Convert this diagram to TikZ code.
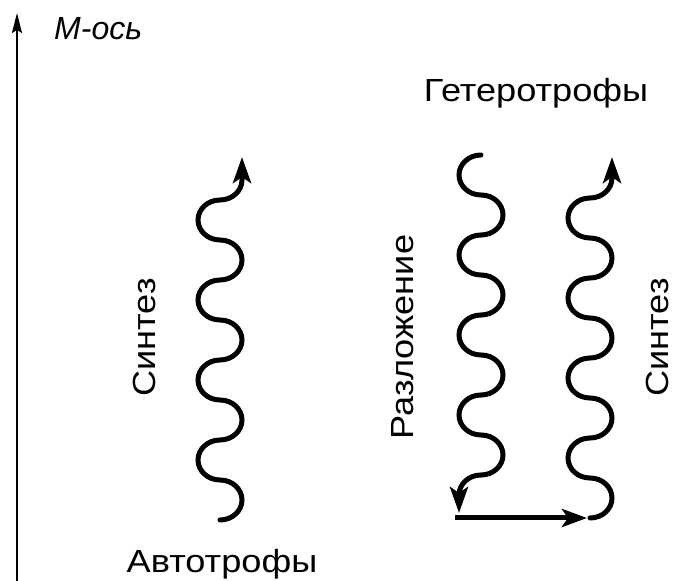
\documentclass[tikz,border=0pt]{standalone}
\usepackage{fontspec}
\setmainfont{Liberation Sans}
\usetikzlibrary{arrows.meta}

\begin{document}
\begin{tikzpicture}[
  x=1pt, y=1pt,
  every node/.style={font=\fontsize{32}{38}\selectfont, inner sep=0pt},
  label/.style={xscale=1.13},
  wave/.style={line width=5pt, line cap=round, x radius=22, y radius=20, -{Stealth[length=26pt, width=18pt, inset=6pt]}},
  flow/.style={line width=5pt, -{Stealth[length=25pt, width=18pt, inset=6pt]}},
  axisline/.style={line width=1.7pt, -{Stealth[length=20pt, width=10pt, inset=3pt]}}
]
\useasboundingbox (0,0) rectangle (675,581);

\coordinate (axisFoot) at (17,0);
\coordinate (axisTop) at (17,568);
\coordinate (autoBase) at (220,61);
\coordinate (decayTop) at (481,426);
\coordinate (flowStart) at (455,63);
\coordinate (synthBase) at (590,63);

\node[anchor=base west, font=\fontsize{32}{38}\selectfont\itshape] (axisName) at (54,541) {М-ось};
\node[label, anchor=base] (heteroName) at (536,479) {Гетеротрофы};
\node[label, anchor=base] (autoName) at (222,8.5) {Автотрофы};
\node[rotate=90, label, anchor=base] (autoSynth) at (155,243.5) {Синтез};
\node[rotate=90, label, anchor=base] (decayName) at (413,244) {Разложение};
\node[rotate=90, label, anchor=base] (heteroSynth) at (668,243.5) {Синтез};

\draw[axisline] (axisFoot) -- (axisTop);

% autotrophs: synthesis upwards
\draw[wave] (autoBase) \foreach \k in {1,...,4} {arc[start angle=-90, end angle=90] arc[start angle=-90, end angle=-270]}
  arc[start angle=-90, end angle=0] -- ++(0,23);

% heterotrophs: decay downwards, then synthesis upwards
\draw[wave] (decayTop) \foreach \k in {1,...,4} {arc[start angle=90, end angle=270] arc[start angle=90, end angle=-90]}
  arc[start angle=90, end angle=180] -- ++(0,-18);
\draw[flow] (flowStart) -- ([xshift=-3pt]synthBase);
\draw[wave] (synthBase) \foreach \k in {1,...,4} {arc[start angle=-90, end angle=90] arc[start angle=-90, end angle=-270]}
  arc[start angle=-90, end angle=0] -- ++(0,21);
\end{tikzpicture}
\end{document}
